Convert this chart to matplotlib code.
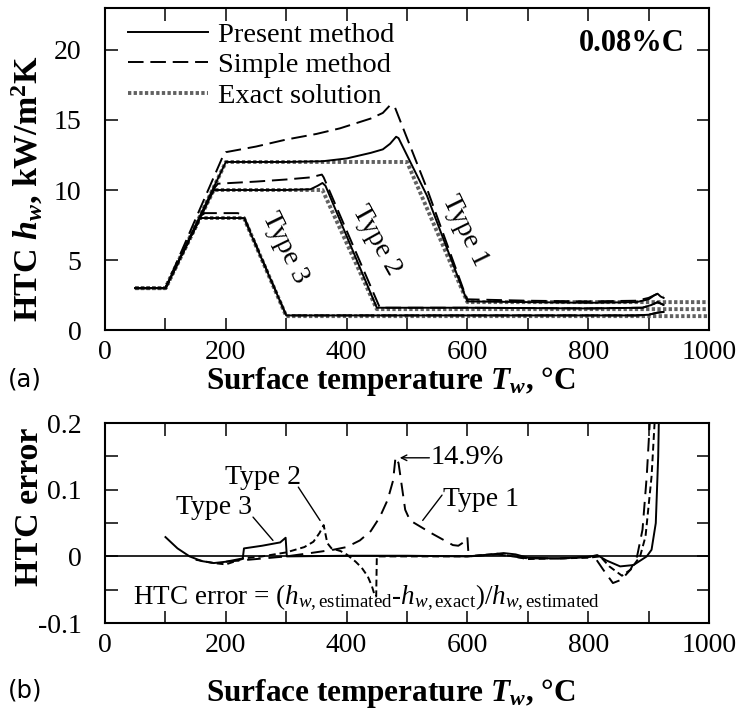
import numpy as np
import matplotlib
matplotlib.use("Agg")
import matplotlib.pyplot as plt
from matplotlib.ticker import MultipleLocator

plt.rcParams['font.family'] = ['Liberation Serif', 'DejaVu Serif']
plt.rcParams['mathtext.fontset'] = 'custom'
plt.rcParams['mathtext.rm'] = 'Liberation Serif'
plt.rcParams['mathtext.it'] = 'Liberation Serif:italic'
plt.rcParams['mathtext.bf'] = 'Liberation Serif:bold'
plt.rcParams['mathtext.bfit'] = 'Liberation Serif:italic:bold'

# ---- (a) HTC vs surface temperature ----
# exact solution
t1_exact = [50, 100, 200, 500, 600, 1000]
h1_exact = [3, 3, 12, 12, 2, 2]
t2_exact = [50, 100, 180, 360, 450, 1000]
h2_exact = [3, 3, 10, 10, 1.5, 1.5]
t3_exact = [50, 100, 157, 230, 300, 1000]
h3_exact = [3, 3, 8, 8, 1, 1]

# present method
t1_pres = [50, 100, 200, 300, 360, 400, 440, 460, 472, 482, 486, 533, 593, 600, 700, 800, 880, 900, 910, 915, 920, 925]
h1_pres = [3, 3, 12, 12, 12.05, 12.25, 12.65, 12.9, 13.3, 13.8, 13.7, 9.6, 2.8, 2.05, 2.0, 1.95, 2.0, 2.2, 2.5, 2.6, 2.4, 2.3]
t2_pres = [50, 100, 180, 300, 340, 352, 360, 365, 450, 600, 800, 890, 905, 915, 925]
h2_pres = [3, 3, 10, 10, 10.05, 10.3, 10.5, 10.3, 1.6, 1.6, 1.55, 1.6, 1.8, 2.0, 1.8]
t3_pres = [50, 100, 157, 230, 300, 600, 880, 900, 915, 925]
h3_pres = [3, 3, 8, 8, 1.05, 1.05, 1.05, 1.1, 1.25, 1.3]

# simple method
t1_simp = [50, 100, 195, 200, 250, 300, 350, 389, 440, 460, 472, 480, 490, 533, 593, 600, 700, 800, 880, 900, 915, 925]
h1_simp = [3, 3, 12.4, 12.7, 13.1, 13.6, 14.0, 14.4, 15.1, 15.5, 16.05, 15.9, 14.8, 10.1, 2.95, 2.2, 2.1, 2.05, 2.1, 2.3, 2.6, 2.4]
t2_simp = [50, 100, 182, 187, 250, 300, 340, 359, 362, 455, 600, 800, 890, 905, 915, 925]
h2_simp = [3, 3, 10.2, 10.45, 10.6, 10.75, 10.9, 11.1, 10.9, 1.6, 1.6, 1.55, 1.6, 1.8, 2.0, 1.8]
t3_simp = [50, 100, 160, 165, 220, 230, 300, 600, 880, 900, 915, 925]
h3_simp = [3, 3, 8.2, 8.35, 8.35, 8.1, 1.05, 1.05, 1.05, 1.1, 1.25, 1.3]

# ---- (b) HTC error ----
t_err1 = [200, 250, 300, 340, 378, 400, 422, 440, 455, 468, 477, 481, 486, 497, 505, 540, 576, 585, 595, 600, 602,
          650, 700, 760, 810, 825, 841, 855, 870, 881, 890, 897, 902, 904]
e_err1 = [-0.008, -0.004, 0.0, 0.005, 0.01, 0.014, 0.024, 0.038, 0.059, 0.085, 0.114, 0.149, 0.14, 0.07, 0.054, 0.035,
          0.017, 0.016, 0.022, 0.029, 0.0, 0.003, -0.003, -0.003, 0.0, -0.02, -0.04, -0.035, -0.02, 0.0, 0.04, 0.12,
          0.2, 0.25]
t_err2 = [150, 180, 200, 230, 260, 300, 330, 345, 355, 362, 368, 375, 390, 400, 415, 425, 435, 442, 447, 449, 450,
          600, 650, 700, 800, 820, 835, 856, 870, 886, 895, 905, 910, 912]
e_err2 = [-0.005, -0.01, -0.012, -0.003, 0.0, 0.006, 0.014, 0.022, 0.035, 0.047, 0.02, 0.012, 0.008, 0.003, -0.008,
          -0.017, -0.03, -0.045, -0.06, -0.06, 0.0, 0.0, 0.004, -0.004, -0.002, 0.0, -0.015, -0.029, -0.02, 0.0,
          0.03, 0.12, 0.2, 0.25]
t_err3 = [100, 120, 140, 160, 180, 200, 228, 230, 260, 290, 299, 301, 400, 500, 600, 640, 660, 680, 700, 750, 800,
          815, 830, 853, 875, 897, 905, 912, 916, 918]
e_err3 = [0.029, 0.012, 0.0, -0.007, -0.01, -0.008, -0.003, 0.012, 0.016, 0.021, 0.028, 0.0, 0.001, 0.001, 0.0,
          0.003, 0.005, 0.003, -0.002, -0.003, -0.001, 0.002, -0.006, -0.015, -0.013, 0.0, 0.01, 0.05, 0.15, 0.25]

fig = plt.figure(figsize=(7.4, 7.1), dpi=100)
ax1 = fig.add_axes([0.142, 0.535, 0.816, 0.454])
ax2 = fig.add_axes([0.142, 0.1225, 0.816, 0.2815])

lw = 1.4
dot_style = dict(color='0.38', lw=2.8, ls=(0, (0.85, 0.6)), dash_capstyle='butt')
dash_long = (0, (8, 3.5))
ax1.plot(t1_exact, h1_exact, **dot_style, zorder=1)
ax1.plot(t2_exact, h2_exact, **dot_style, zorder=1)
ax1.plot(t3_exact, h3_exact, **dot_style, zorder=1)
for t, h in [(t1_simp, h1_simp), (t2_simp, h2_simp), (t3_simp, h3_simp)]:
    ax1.plot(t, h, color='k', lw=lw, ls=dash_long, zorder=2)
for t, h in [(t1_pres, h1_pres), (t2_pres, h2_pres), (t3_pres, h3_pres)]:
    ax1.plot(t, h, color='k', lw=lw, zorder=3)

# legend handles
l_p, = ax1.plot([], [], color='k', lw=lw)
l_s, = ax1.plot([], [], color='k', lw=lw, ls=dash_long)
l_e, = ax1.plot([], [], **dot_style)
ax1.legend([l_p, l_s, l_e], ['Present method', 'Simple method', 'Exact solution'],
           loc='upper left', bbox_to_anchor=(0.038, 0.957), frameon=False, fontsize=20.5,
           handlelength=2.8, handletextpad=0.35, labelspacing=0.16, borderpad=0, borderaxespad=0)

ax1.text(0.96, 0.89, '0.08%C', transform=ax1.transAxes, ha='right', va='center', fontsize=22, fontweight='bold')
ax1.text(298, 5.86, 'Type 3', rotation=-64, ha='center', va='center', fontsize=20)
ax1.text(449, 6.4, 'Type 2', rotation=-61, ha='center', va='center', fontsize=20)
ax1.text(596, 7.1, 'Type 1', rotation=-64, ha='center', va='center', fontsize=20)

ax1.set_xlim(0, 1000)
ax1.set_ylim(0, 23)
ax1.yaxis.set_major_locator(MultipleLocator(5))
ax1.set_ylabel(r'HTC $\mathbfit{h}_{\mathbfit{w}}$, kW/m$^{\mathbf{2}}$K', fontsize=24.5, fontweight='bold')
ax1.yaxis.set_label_coords(-0.1, 0.44)

ax2.axhline(0, color='k', lw=1.2, zorder=1)
ax2.plot(t_err1, e_err1, color='k', lw=lw, ls=(0, (7, 4)), zorder=2)
ax2.plot(t_err2, e_err2, color='k', lw=lw, ls=(0, (3.5, 2)), zorder=2)
ax2.plot(t_err3, e_err3, color='k', lw=lw, zorder=3)

ann = dict(arrowstyle='-', color='k', lw=1.0, shrinkA=0, shrinkB=0)
ax2.text(262, 0.119, 'Type 2', ha='center', va='center', fontsize=20)
ax2.annotate('', xy=(356, 0.054), xytext=(320, 0.104), arrowprops=ann)
ax2.text(180, 0.074, 'Type 3', ha='center', va='center', fontsize=20)
ax2.annotate('', xy=(278, 0.024), xytext=(245, 0.059), arrowprops=ann)
ax2.text(600, 0.148, '14.9%', ha='center', va='center', fontsize=20.5)
ax2.annotate('', xy=(488, 0.148), xytext=(537, 0.148),
             arrowprops=dict(arrowstyle='->', color='k', lw=1.0, shrinkA=0, shrinkB=0))
ax2.text(623, 0.085, 'Type 1', ha='center', va='center', fontsize=20)
ax2.annotate('', xy=(526, 0.054), xytext=(558, 0.092), arrowprops=ann)
ax2.text(46, -0.063,
         r'HTC error = ($h_{w,\mathrm{estimated}}$-$h_{w,\mathrm{exact}}$)/$h_{w,\mathrm{estimated}}$',
         ha='left', va='center', fontsize=19.5)

ax2.set_xlim(0, 1000)
ax2.set_ylim(-0.1, 0.2)
ax2.yaxis.set_minor_locator(MultipleLocator(0.05))
ax2.set_yticks([-0.1, 0, 0.1, 0.2])
ax2.set_yticklabels(['-0.1', '0', '0.1', '0.2'])
ax2.set_ylabel('HTC error', fontsize=24.5, fontweight='bold')
ax2.yaxis.set_label_coords(-0.1, 0.58)

for ax in (ax1, ax2):
    ax.xaxis.set_major_locator(MultipleLocator(200))
    ax.xaxis.set_minor_locator(MultipleLocator(100))
    ax.tick_params(which='both', direction='in', top=True, right=True, length=9, width=1.1,
                   labelsize=20)
    ax.tick_params(axis='x', pad=7)
    ax.tick_params(axis='y', pad=17)
    for s in ax.spines.values():
        s.set_linewidth(1.5)
    ax.set_xlabel(r'Surface temperature $\mathbfit{T}_{\mathbfit{w}}$, °C', fontsize=22.5, fontweight='bold',
                  labelpad=0)
    ax.xaxis.set_label_coords(0.473, -0.109 if ax is ax1 else -0.27)

fig.text(0.01, 0.465, '(a)', fontsize=17.5, family='DejaVu Sans', va='center')
fig.text(0.01, 0.028, '(b)', fontsize=17.5, family='DejaVu Sans', va='center')

fig.savefig('out.png', dpi=100)
